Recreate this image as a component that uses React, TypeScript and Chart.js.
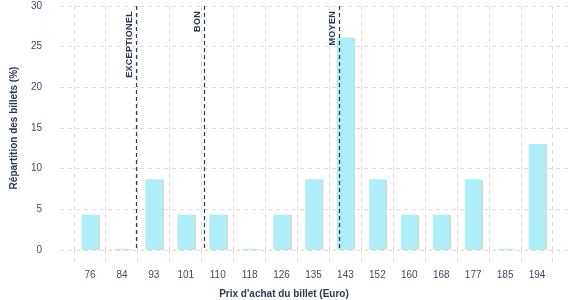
import React, { useEffect, useRef } from "react";
import { Chart, registerables } from "chart.js";

Chart.register(...registerables);

const priceLabels = ["76", "84", "93", "101", "110", "118", "126", "135", "143", "152", "160", "168", "177", "185", "194"];
const shares = [4.35, 0, 8.7, 4.35, 4.35, 0, 4.35, 8.7, 26.09, 8.7, 4.35, 4.35, 8.7, 0, 13.04];
const thresholdNames = ["EXCEPTIONEL", "BON", "MOYEN"];
const thresholdPrices = [88, 106, 141.5];

const yTitle = "Répartition des billets (%)";
const xTitle = "Prix d'achat du billet (Euro)";

const NAVY = "#2b3a4f";
const TICK = "#3f4d60";
const FONT = "'Liberation Sans', Arial, sans-serif";

function priceToIndex(p: number): number {
  const nums = priceLabels.map(Number);
  for (let i = 0; i < nums.length - 1; i++) {
    if (p >= nums[i] && p <= nums[i + 1]) {
      return i + (p - nums[i]) / (nums[i + 1] - nums[i]);
    }
  }
  return 0;
}

const shadowPlugin = {
  id: "barShadow",
  beforeDatasetDraw(chart: any) {
    const ctx = chart.ctx;
    ctx.save();
    ctx.shadowColor = "rgba(0,0,0,0.16)";
    ctx.shadowOffsetX = 1.5;
    ctx.shadowOffsetY = 0.5;
    ctx.shadowBlur = 0.5;
  },
  afterDatasetDraw(chart: any) {
    chart.ctx.restore();
  },
};

const thresholdPlugin = {
  id: "thresholds",
  afterDatasetsDraw(chart: any) {
    const { ctx, chartArea, scales } = chart;
    const xs = scales.x;
    thresholdPrices.forEach((p, k) => {
      const x = Math.round(xs.getPixelForValue(priceToIndex(p))) + 0.5;
      ctx.save();
      ctx.strokeStyle = NAVY;
      ctx.lineWidth = 1.2;
      ctx.setLineDash([4, 3]);
      ctx.beginPath();
      ctx.moveTo(x, chartArea.top);
      ctx.lineTo(x, chartArea.bottom);
      ctx.stroke();
      ctx.setLineDash([]);
      ctx.translate(x - 7, chartArea.top + 5);
      ctx.rotate(-Math.PI / 2);
      ctx.fillStyle = NAVY;
      ctx.font = `bold 9px ${FONT}`;
      (ctx as any).letterSpacing = "0.3px";
      ctx.textAlign = "right";
      ctx.textBaseline = "middle";
      ctx.fillText(thresholdNames[k], 0, 0);
      ctx.restore();
    });
  },
};

export default function App() {
  const ref = useRef<HTMLCanvasElement>(null);

  useEffect(() => {
    document.body.style.margin = "0";
    const canvas = ref.current;
    if (!canvas) return;
    const chart = new Chart(canvas, {
      type: "bar",
      data: {
        datasets: [
          {
            data: shares.map((v, i) => ({ x: i, y: v })),
            backgroundColor: "#aeeef8",
            borderWidth: 0,
            barPercentage: 0.53,
            categoryPercentage: 1,
            minBarLength: 1.2,
          },
        ],
      },
      options: {
        animation: false,
        responsive: false,
        layout: { padding: { top: 0, right: 9, left: 0, bottom: 0 } },
        plugins: {
          legend: { display: false },
          tooltip: { enabled: false },
          title: {
            display: true,
            position: "bottom",
            text: xTitle,
            color: NAVY,
            font: { family: FONT, size: 10, weight: "bold" },
            padding: { top: 3, bottom: 0 },
          },
        },
        scales: {
          x: {
            type: "linear",
            min: -0.94,
            max: 14.97,
            offset: false,
            grid: {
              color: "#dcdcdc",
              tickBorderDash: [4, 4],
              tickLength: 15,
              drawOnChartArea: true,
            } as any,
            border: { display: false, dash: [4, 4] },
            ticks: {
              stepSize: 1,
              includeBounds: false,
              autoSkip: false,
              maxRotation: 0,
              color: TICK,
              font: { family: FONT, size: 10 },
              padding: 4,
              callback: (v: any) => priceLabels[Number(v)] ?? "",
            },
          },
          y: {
            min: 0,
            max: 30,
            grid: { color: "#dcdcdc", drawTicks: true, tickLength: 18, tickColor: "rgba(0,0,0,0)" },
            border: { display: false, dash: [4, 4] },
            ticks: {
              stepSize: 5,
              color: TICK,
              font: { family: FONT, size: 10 },
              padding: 0,
            },
            title: {
              display: true,
              text: yTitle,
              color: NAVY,
              font: { family: FONT, size: 10, weight: "bold" },
              padding: { top: 8, bottom: 4 },
            },
            afterFit: (scale: any) => {
              scale.width = 60;
            },
          },
        },
      },
      plugins: [shadowPlugin, thresholdPlugin],
    });
    return () => chart.destroy();
  }, []);

  return (
    <div style={{ width: 577, height: 300 }}>
      <canvas ref={ref} width={577} height={300} style={{ display: "block" }} />
    </div>
  );
}
